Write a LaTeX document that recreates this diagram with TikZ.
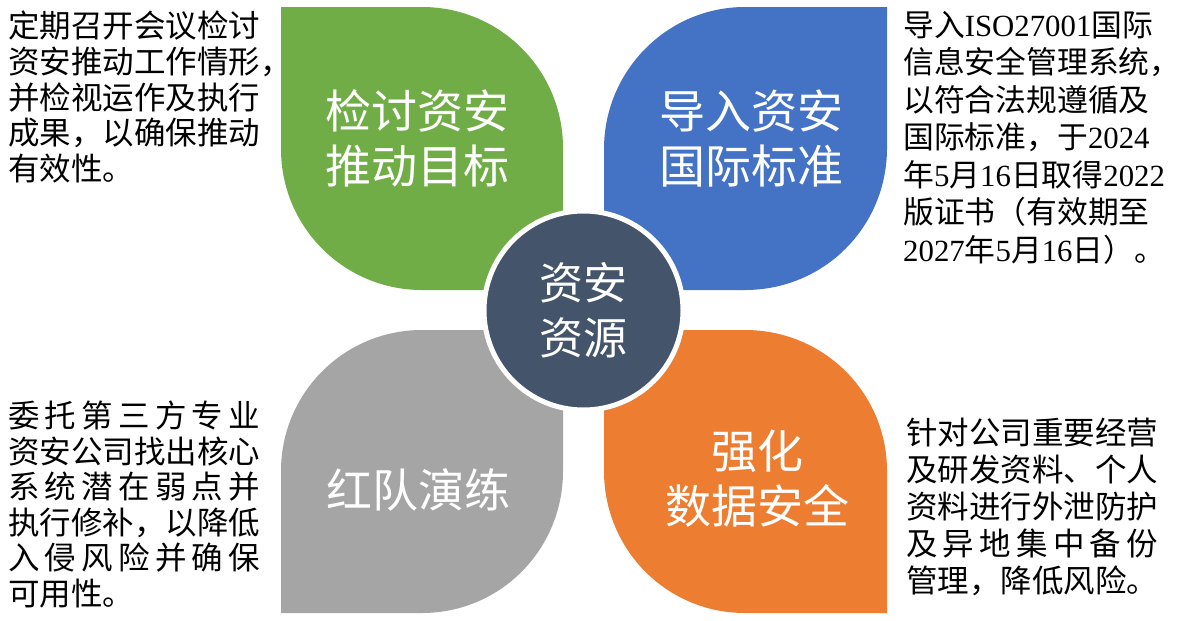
\documentclass[tikz,border=0pt]{standalone}
\usepackage{fontspec}
\setmainfont{Noto Sans CJK SC}
\newfontfamily\latin{Liberation Serif}
\definecolor{leafgreen}{HTML}{70AD47}
\definecolor{leafblue}{HTML}{4472C4}
\definecolor{leafgray}{HTML}{A5A5A5}
\definecolor{leaforange}{HTML}{ED7D31}
\definecolor{hubnavy}{HTML}{44546A}
\newcommand{\spread}[1]{\hbox to 8em{#1}}
\newcommand{\hangp}[1]{\makebox[0.5em][l]{#1}}

\begin{document}
\begin{tikzpicture}[x=1pt, y=-1pt]
	\tikzset{
		leaf/.style={fill=#1},
		leaftitle/.style={text=white, align=center, inner sep=0pt, font=\fontsize{46}{55}\selectfont},
		hub/.style={circle, fill=hubnavy, draw=white, line width=5pt, minimum size=199pt, inner sep=0pt, text=white, align=center, font=\fontsize{44}{55}\selectfont},
		desc/.style={anchor=north west, inner sep=0pt, align=left, font=\fontsize{31.5}{#1}\selectfont},
		desc/.default=36pt
	}
	\useasboundingbox (0,0) rectangle (1181,621);

	\fill[leaf=leafgreen] (281,7) -- (422,7) .. controls (500,7) and (563,70) .. (563,148) -- (563,290) -- (422,290) .. controls (344,290) and (281,227) .. (281,149) -- cycle;
	\fill[leaf=leafblue] (887,7) -- (887,148) .. controls (887,227) and (824,290) .. (745,290) -- (604,290) -- (604,149) .. controls (604,71) and (667,7) .. (745,7) -- cycle;
	\fill[leaf=leafgray] (281,613) -- (281,471) .. controls (281,393) and (344,330) .. (422,330) -- (563,330) -- (563,471) .. controls (563,550) and (500,613) .. (422,613) -- cycle;
	\fill[leaf=leaforange] (604,330) -- (745,330) .. controls (824,330) and (887,393) .. (887,471) -- (887,613) -- (745,613) .. controls (667,613) and (604,550) .. (604,471) -- cycle;

	\node[hub] (core) at (583.5,310.5) {资安\\资源};

	\node[leaftitle] (goal) at (417,138) {检讨资安\\推动目标};
	\node[leaftitle] (iso) at (751,138) {导入资安\\国际标准};
	\node[leaftitle] (redteam) at (418,490) {红队演练};
	\node[leaftitle] (data) at (757,479) {强化\\数据安全};

	\node[desc=35.7pt] (goalnote) at (8,11) {定期召开会议检讨\\资安推动工作情形\hangp{，}\\并检视运作及执行\\成果，以确保推动\\有效性。};
	\node[desc, font=\fontsize{30.8}{37.5}\selectfont] (isonote) at (903,11) {\spread{导\hfill 入\hfill {\latin ISO27001}\hfill 国\hfill 际}\\信息安全管理系统\hangp{，}\\以符合法规遵循及\\\spread{国\hfill 际\hfill 标\hfill 准\hfill ，\hfill 于\hfill{\latin 2024}}\\年{\latin 5}月{\latin 16}日取得{\latin 2022}\\版证书（有效期至\\{\latin 2027}年{\latin 5}月{\latin 16}日）。};
	\node[desc=35.5pt] (redteamnote) at (8,401) {\spread{委\hfill 托\hfill 第\hfill 三\hfill 方\hfill 专\hfill 业}\\资安公司找出核心\\\spread{系\hfill 统\hfill 潜\hfill 在\hfill 弱\hfill 点\hfill 并}\\执行修补，以降低\\\spread{入\hfill 侵\hfill 风\hfill 险\hfill 并\hfill 确\hfill 保}\\可用性。};
	\node[desc=37pt] (datanote) at (906,418) {针对公司重要经营\\及研发资料、个人\\资料进行外泄防护\\\spread{及\hfill 异\hfill 地\hfill 集\hfill 中\hfill 备\hfill 份}\\管理，降低风险。};
\end{tikzpicture}
\end{document}
